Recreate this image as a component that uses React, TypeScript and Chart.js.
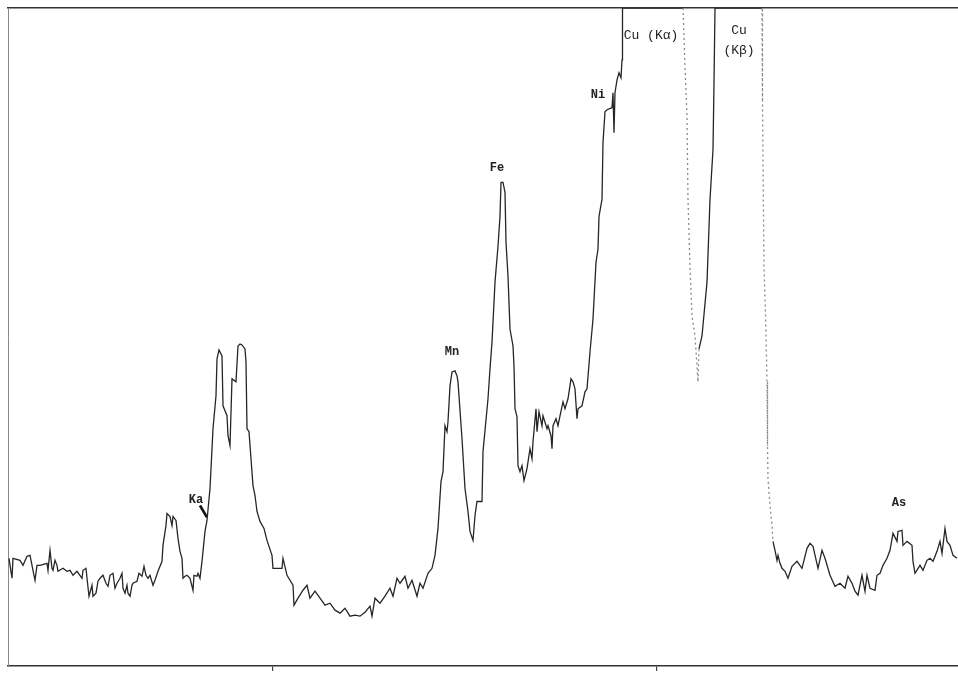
import React, { useEffect, useRef } from "react";
import { Chart, registerables } from "chart.js";

Chart.register(...registerables);

// Spectrum trace: channel (x) and counts (y); peaks above 660 are off-scale (clipped)
const channels = [
  1, 4, 5, 12, 15, 19, 22, 25, 27, 29, 32, 39, 40, 42, 44, 45, 47, 49, 50, 55,
  59, 62, 65, 69, 74, 75, 78, 79, 81, 84, 85, 88, 90, 92, 95, 98, 100, 102, 105, 107,
  109, 112, 114, 115, 117, 119, 120, 122, 124, 125, 129, 131, 134, 136, 138, 140, 142, 145, 147, 150,
  154, 155, 158, 159, 162, 164, 165, 168, 170, 172, 174, 175, 177, 179, 182, 185, 186, 189, 190, 192,
  194, 195, 197, 199, 202, 205, 208, 209, 211, 214, 215, 219, 220, 222, 224, 228, 230, 232, 234, 237,
  238, 239, 241, 245, 247, 249, 252, 256, 259, 264, 265, 274, 275, 279, 285, 286, 290, 295, 299, 302,
  307, 312, 317, 322, 327, 332, 337, 342, 347, 352, 357, 362, 364, 367, 372, 377, 382, 385, 389, 392,
  397, 400, 404, 409, 412, 415, 420, 424, 427, 430, 433, 435, 437, 439, 440, 442, 444, 447, 449, 450,
  454, 457, 460, 462, 465, 467, 469, 474, 475, 480, 482, 484, 487, 490, 492, 493, 495, 497, 498, 500,
  502, 505, 506, 507, 509, 510, 512, 514, 516, 519, 522, 524, 525, 528, 529, 531, 534, 535, 539, 540,
  543, 544, 545, 548, 550, 552, 555, 557, 560, 563, 565, 567, 569, 570, 574, 577, 579, 582, 585, 588,
  590, 591, 594, 595, 597, 599, 604, 605, 606, 607, 609, 611, 613, 614, 614.5, 675, 677, 679, 680, 682,
  684, 687, 689, 690, 691, 694, 699, 702, 705, 706, 707, 754, 754.5, 755, 756, 757, 758, 759, 759.5, 760,
  762, 764, 765, 767, 769, 770, 772, 774, 777, 780, 784, 789, 794, 799, 802, 805, 810, 814, 817, 822,
  827, 832, 837, 840, 844, 847, 850, 854, 857, 859, 862, 867, 869, 872, 875, 879, 882, 885, 889, 890,
  894, 895, 899, 904, 905, 907, 912, 915, 919, 922, 925, 929, 932, 934, 937, 939, 942, 945, 949,
];

const counts = [
  108, 88, 108, 106, 101, 110, 111, 96, 86, 101, 101, 103, 96, 116, 98, 96, 106, 101, 95, 98,
  95, 96, 91, 95, 88, 96, 98, 88, 70, 81, 70, 73, 85, 88, 91, 83, 80, 91, 93, 78,
  83, 88, 93, 78, 73, 81, 73, 70, 81, 83, 85, 93, 90, 100, 91, 88, 91, 81, 86, 95,
  105, 121, 141, 153, 150, 141, 150, 146, 128, 115, 108, 88, 90, 91, 88, 76, 91, 90, 93, 88,
  105, 115, 135, 146, 178, 238, 271, 308, 317, 311, 261, 251, 231, 221, 288, 285, 321, 323, 322, 318,
  305, 238, 235, 181, 171, 155, 145, 138, 126, 111, 98, 98, 108, 91, 81, 61, 68, 76, 81, 68,
  75, 68, 61, 63, 56, 53, 58, 50, 51, 50, 54, 60, 50, 68, 63, 70, 78, 70, 88, 83,
  90, 78, 86, 70, 83, 78, 93, 98, 111, 138, 185, 195, 241, 235, 245, 281, 295, 296, 291, 285,
  228, 178, 155, 135, 126, 151, 165, 165, 215, 268, 298, 325, 385, 421, 451, 485, 485, 475, 425, 391,
  338, 321, 301, 258, 250, 201, 195, 201, 186, 198, 218, 208, 225, 258, 235, 255, 241, 251, 238, 241,
  231, 218, 241, 248, 241, 251, 265, 258, 268, 288, 285, 278, 248, 258, 261, 275, 278, 315, 348, 405,
  418, 451, 468, 525, 556, 558, 560, 575, 535, 575, 588, 595, 590, 608, 660, 660, 601, 551, 468, 401,
  351, 331, 301, 285, 318, 331, 385, 468, 518, 585, 660, 660, 568, 508, 401, 368, 335, 285, 221, 188,
  161, 141, 125, 116, 106, 111, 103, 98, 95, 88, 100, 105, 98, 118, 123, 120, 98, 116, 108, 91,
  80, 83, 78, 90, 83, 75, 71, 91, 75, 91, 78, 76, 91, 93, 101, 108, 116, 133, 125, 135,
  136, 121, 125, 121, 105, 93, 101, 96, 106, 108, 105, 115, 125, 113, 138, 125, 121, 111, 108,
];

// Peak labels
const labelTexts = ["Ka", "Mn", "Fe", "Ni", "Cu (Kα)", "Cu", "(Kβ)", "As"];
const labelChannels = [188, 444, 489, 590, 643, 731, 731, 891];
const labelCounts = [167, 315, 500, 573, 632, 637, 617, 164];
const labelBold = [true, true, true, true, false, false, false, true];

// Ka pointer
const kaArrowChannels = [192, 199];
const kaArrowCounts = [161, 149];

// Notches on the energy axis
const axisNotches = [265, 649];

// Faint (lightly printed) descending edges of the off-scale Cu peaks
const faintRanges = [
  [675, 691],
  [754, 765],
];

const X_MIN = 0;
const X_MAX = 950;
const Y_MIN = 0;
const Y_MAX = 660;

const isFaint = (x: number) => faintRanges.some(([a, b]) => x >= a && x < b);

const labelPlugin = {
  id: "peakLabels",
  afterDatasetsDraw(chart: any) {
    const { ctx, scales } = chart;
    const xs = scales.x;
    const ys = scales.y;
    ctx.save();
    ctx.fillStyle = "#222";
    ctx.textAlign = "center";
    ctx.textBaseline = "middle";
    labelTexts.forEach((t, i) => {
      ctx.font = `${labelBold[i] ? "bold 12px" : "13px"} "Liberation Mono", "DejaVu Sans Mono", monospace`;
      ctx.fillText(t, xs.getPixelForValue(labelChannels[i]), ys.getPixelForValue(labelCounts[i]));
    });
    ctx.restore();
  },
};

export default function App() {
  const canvasRef = useRef<HTMLCanvasElement | null>(null);

  useEffect(() => {
    const canvas = canvasRef.current;
    if (!canvas) return;
    const chart = new Chart(canvas, {
      type: "line",
      data: {
        datasets: [
          {
            data: channels.map((x, i) => ({ x, y: counts[i] })),
            borderColor: "#262626",
            borderWidth: 1.3,
            pointRadius: 0,
            tension: 0,
            fill: false,
            segment: {
              borderColor: (c: any) => (isFaint(c.p0.parsed.x) ? "#8a8a8a" : "#262626"),
              borderDash: (c: any) => (isFaint(c.p0.parsed.x) ? [2, 3] : []),
            },
          },
          {
            data: kaArrowChannels.map((x, i) => ({ x, y: kaArrowCounts[i] })),
            borderColor: "#111",
            borderWidth: 2.6,
            pointRadius: 0,
            tension: 0,
            fill: false,
          },
        ],
      },
      options: {
        responsive: false,
        animation: false,
        parsing: false,
        normalized: true,
        layout: { padding: { left: 8, top: 8, right: 0, bottom: 3 } },
        plugins: {
          legend: { display: false },
          tooltip: { enabled: false },
          title: { display: false },
        },
        scales: {
          x: {
            type: "linear",
            position: "bottom",
            min: X_MIN,
            max: X_MAX,
            afterBuildTicks: (axis: any) => {
              axis.ticks = axisNotches.map((v) => ({ value: v }));
            },
            ticks: { display: false },
            grid: {
              display: true,
              drawOnChartArea: false,
              drawTicks: true,
              tickLength: 5,
              color: "#444",
              lineWidth: 1.2,
            },
            border: { display: true, color: "#333", width: 1.5 },
          },
          xTop: {
            type: "linear",
            position: "top",
            axis: "x",
            min: X_MIN,
            max: X_MAX,
            ticks: { display: false },
            grid: { display: false, drawTicks: false },
            border: { display: true, color: "#333", width: 1.5 },
          },
          y: {
            type: "linear",
            min: Y_MIN,
            max: Y_MAX,
            ticks: { display: false },
            grid: { display: false, drawTicks: false },
            border: { display: true, color: "#888", width: 1, dash: [4, 2] },
          },
        },
      } as any,
      plugins: [labelPlugin],
    });
    return () => chart.destroy();
  }, []);

  return (
    <div style={{ position: "fixed", left: 0, top: 0, width: 958, height: 674, background: "#fff" }}>
      <canvas ref={canvasRef} width={958} height={674} style={{ display: "block" }} />
    </div>
  );
}
